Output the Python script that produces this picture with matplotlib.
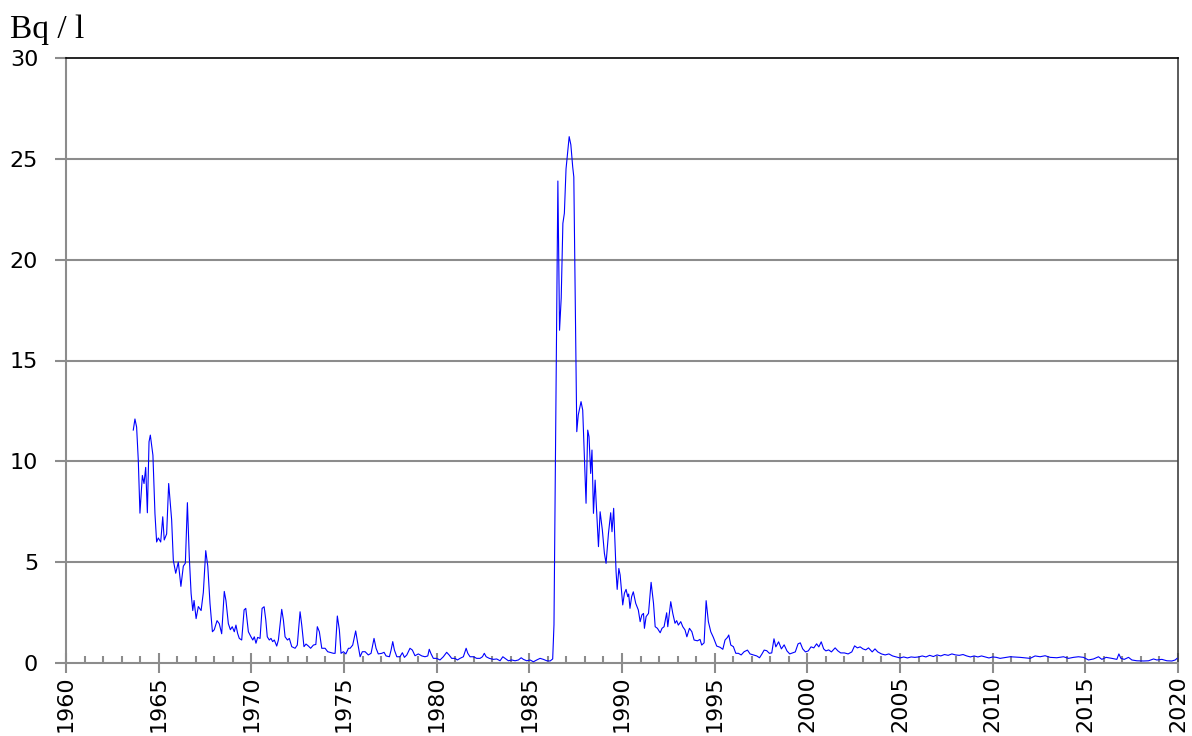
import matplotlib
matplotlib.use("Agg")
import matplotlib.pyplot as plt
from matplotlib.ticker import MultipleLocator

# ---- data (year, Bq/l) ----
years_early = [1963.63, 1963.72, 1963.81, 1963.90, 1963.99, 1964.12, 1964.21, 1964.30, 1964.39, 1964.48,
               1964.55, 1964.69, 1964.80, 1964.89, 1964.98, 1965.11, 1965.22, 1965.30, 1965.43, 1965.54,
               1965.70, 1965.79, 1965.92, 1966.06, 1966.20, 1966.33, 1966.44, 1966.55, 1966.65, 1966.75,
               1966.84, 1966.91, 1967.02, 1967.14, 1967.29, 1967.41, 1967.54, 1967.65, 1967.77, 1967.90,
               1968.00, 1968.15, 1968.27, 1968.40, 1968.54, 1968.63, 1968.76, 1968.87, 1968.97, 1969.08,
               1969.17, 1969.26, 1969.35, 1969.48, 1969.61, 1969.70, 1969.84, 1969.98, 1970.08, 1970.16,
               1970.25, 1970.34, 1970.47, 1970.58, 1970.69, 1970.78, 1970.86, 1970.97, 1971.06, 1971.15,
               1971.24, 1971.37, 1971.46, 1971.64, 1971.73, 1971.82, 1971.95, 1972.05, 1972.18, 1972.36,
               1972.48, 1972.63, 1972.72, 1972.84, 1972.95, 1973.08, 1973.20, 1973.35, 1973.48, 1973.56,
               1973.67, 1973.80, 1973.98, 1974.12, 1974.43, 1974.52, 1974.64, 1974.75, 1974.84, 1974.97,
               1975.10, 1975.24]
values_early = [11.55, 12.1, 11.7, 10.06, 7.43, 9.3, 8.9, 9.7, 7.45, 10.97,
                11.3, 10.3, 7.4, 6.0, 6.2, 6.0, 7.25, 6.1, 6.4, 8.9,
                7.1, 5.1, 4.45, 5.0, 3.8, 4.8, 4.95, 7.95, 5.3, 3.45,
                2.6, 3.1, 2.2, 2.8, 2.6, 3.5, 5.57, 4.8, 2.95, 1.55,
                1.65, 2.1, 1.95, 1.45, 3.55, 3.1, 1.95, 1.65, 1.8, 1.55,
                1.88, 1.47, 1.22, 1.14, 2.63, 2.71, 1.55, 1.3, 1.14, 1.3,
                0.98, 1.27, 1.22, 2.71, 2.79, 2.13, 1.3, 1.14, 1.22, 1.06,
                1.14, 0.84, 1.14, 2.66, 2.13, 1.3, 1.14, 1.22, 0.81, 0.73,
                0.89, 2.54, 1.88, 0.81, 0.94, 0.84, 0.73, 0.89, 0.92, 1.8,
                1.55, 0.73, 0.73, 0.56, 0.48, 0.48, 2.33, 1.64, 0.48, 0.56,
                0.45, 0.73]

years_mid = [1975.33, 1975.47, 1975.63, 1975.74, 1975.87, 1975.99, 1976.14, 1976.31, 1976.46, 1976.62,
             1976.73, 1976.85, 1977.04, 1977.16, 1977.27, 1977.45, 1977.54, 1977.63, 1977.72, 1977.85,
             1978.02, 1978.15, 1978.26, 1978.39, 1978.56, 1978.69, 1978.83, 1979.01, 1979.20, 1979.37,
             1979.52, 1979.60, 1979.70, 1979.82, 1980.00, 1980.18, 1980.36, 1980.54, 1980.67, 1980.81,
             1980.99, 1981.12, 1981.26, 1981.44, 1981.59, 1981.68, 1981.80, 1981.98, 1982.16, 1982.34,
             1982.47, 1982.57, 1982.67, 1982.84, 1983.06, 1983.24, 1983.42, 1983.57, 1983.69, 1983.87,
             1984.05, 1984.23, 1984.41, 1984.56, 1984.68, 1984.86, 1985.04, 1985.22, 1985.40, 1985.58,
             1985.76, 1985.94, 1986.12, 1986.26]
values_mid = [0.73, 0.89, 1.59, 0.98, 0.31, 0.56, 0.56, 0.40, 0.48, 1.22,
              0.73, 0.45, 0.48, 0.53, 0.35, 0.31, 0.64, 1.06, 0.64, 0.31,
              0.31, 0.51, 0.28, 0.40, 0.73, 0.64, 0.36, 0.45, 0.35, 0.31,
              0.35, 0.68, 0.45, 0.23, 0.23, 0.15, 0.31, 0.53, 0.40, 0.23,
              0.23, 0.15, 0.23, 0.31, 0.73, 0.48, 0.31, 0.31, 0.23, 0.23,
              0.31, 0.48, 0.31, 0.23, 0.18, 0.20, 0.11, 0.31, 0.23, 0.11,
              0.15, 0.11, 0.15, 0.26, 0.18, 0.11, 0.15, 0.06, 0.15, 0.23,
              0.18, 0.11, 0.10, 0.20]

years_chern = [1986.33, 1986.54, 1986.63, 1986.72, 1986.81, 1986.89, 1986.98, 1987.15, 1987.24, 1987.34,
               1987.40, 1987.56, 1987.64, 1987.79, 1987.88, 1987.97, 1988.06, 1988.15, 1988.22, 1988.31,
               1988.38, 1988.46, 1988.55, 1988.60, 1988.73, 1988.82, 1988.94, 1989.05, 1989.14, 1989.27,
               1989.39, 1989.46, 1989.55, 1989.68, 1989.74, 1989.83, 1989.90, 1989.97, 1990.04, 1990.13,
               1990.22, 1990.31, 1990.36, 1990.43, 1990.52, 1990.61, 1990.74, 1990.88]
values_chern = [1.9, 23.9, 16.5, 18.1, 21.8, 22.3, 24.5, 26.1, 25.7, 24.6,
                24.1, 11.47, 12.3, 12.96, 12.54, 10.23, 7.92, 11.55, 11.22, 9.4,
                10.56, 7.42, 9.07, 8.08, 5.77, 7.5, 6.59, 5.44, 4.94, 6.43,
                7.45, 6.51, 7.67, 4.53, 3.65, 4.69, 4.36, 3.62, 2.88, 3.46,
                3.65, 3.29, 3.42, 2.71, 3.29, 3.53, 2.96, 2.63]

years_late = [1990.98, 1991.07, 1991.16, 1991.21, 1991.30, 1991.43, 1991.57, 1991.70, 1991.79, 1991.91,
              1992.06, 1992.16, 1992.27, 1992.41, 1992.47, 1992.63, 1992.74, 1992.86, 1992.95, 1993.04,
              1993.17, 1993.28, 1993.40, 1993.50, 1993.64, 1993.77, 1993.89, 1994.07, 1994.21, 1994.30,
              1994.43, 1994.54, 1994.66, 1994.79, 1994.93, 1995.11, 1995.29, 1995.44, 1995.56, 1995.69,
              1995.76, 1995.87, 1996.01, 1996.14, 1996.28, 1996.43, 1996.59, 1996.77, 1996.91, 1997.09,
              1997.27, 1997.42, 1997.54, 1997.67, 1997.81, 1997.95]
values_late = [2.05, 2.38, 2.46, 1.72, 2.30, 2.46, 4.00, 2.96, 1.80, 1.72,
               1.50, 1.72, 1.80, 2.49, 1.80, 3.04, 2.46, 1.97, 2.10, 1.88,
               2.05, 1.80, 1.64, 1.30, 1.72, 1.55, 1.14, 1.10, 1.17, 0.89,
               1.00, 3.09, 2.05, 1.55, 1.27, 0.84, 0.78, 0.68, 1.14, 1.27,
               1.39, 0.89, 0.81, 0.48, 0.48, 0.40, 0.56, 0.64, 0.45, 0.40,
               0.35, 0.26, 0.43, 0.64, 0.61, 0.48]

years_recent = [1998.08, 1998.20, 1998.30, 1998.45, 1998.60, 1998.75, 1998.90, 1999.05, 1999.20, 1999.35,
                1999.50, 1999.62, 1999.75, 1999.90, 2000.05, 2000.20, 2000.35, 2000.50, 2000.62, 2000.75,
                2000.88, 2001.00, 2001.15, 2001.30, 2001.50, 2001.65, 2001.80, 2002.00, 2002.20, 2002.40,
                2002.55, 2002.70, 2002.85, 2003.00, 2003.15, 2003.30, 2003.50, 2003.65, 2003.80, 2004.00,
                2004.20, 2004.40, 2004.60, 2004.80, 2005.00, 2005.20, 2005.40, 2005.60, 2005.80, 2006.00,
                2006.20, 2006.40, 2006.60, 2006.80, 2007.00, 2007.20, 2007.40, 2007.60, 2007.80, 2008.00,
                2008.20, 2008.40, 2008.60, 2008.80, 2009.00, 2009.20, 2009.40, 2009.60, 2009.80, 2010.00,
                2010.20, 2010.40, 2010.94, 2011.48, 2012.02, 2012.29, 2012.56, 2012.83, 2013.10, 2013.46,
                2013.82, 2014.09, 2014.36, 2014.63, 2014.90, 2015.17, 2015.44, 2015.71, 2015.89, 2016.12,
                2016.43, 2016.70, 2016.81, 2016.92, 2017.10, 2017.33, 2017.51, 2017.78, 2018.14, 2018.41,
                2018.68, 2018.86, 2019.13, 2019.40, 2019.67, 2019.85, 2019.95]
values_recent = [0.50, 1.20, 0.80, 1.05, 0.70, 0.90, 0.60, 0.45, 0.50, 0.55,
                 0.95, 1.00, 0.70, 0.55, 0.60, 0.80, 0.75, 0.95, 0.80, 1.05,
                 0.70, 0.60, 0.65, 0.55, 0.75, 0.60, 0.50, 0.50, 0.45, 0.55,
                 0.85, 0.75, 0.80, 0.70, 0.65, 0.75, 0.55, 0.70, 0.55, 0.45,
                 0.40, 0.45, 0.35, 0.30, 0.25, 0.30, 0.25, 0.30, 0.28, 0.30,
                 0.35, 0.30, 0.38, 0.32, 0.40, 0.35, 0.42, 0.38, 0.45, 0.40,
                 0.38, 0.42, 0.35, 0.30, 0.35, 0.30, 0.35, 0.30, 0.25, 0.30,
                 0.28, 0.23, 0.31, 0.28, 0.23, 0.35, 0.31, 0.36, 0.28, 0.26,
                 0.31, 0.23, 0.28, 0.31, 0.28, 0.15, 0.20, 0.31, 0.18, 0.28,
                 0.23, 0.18, 0.45, 0.23, 0.18, 0.28, 0.15, 0.11, 0.10, 0.11,
                 0.20, 0.15, 0.18, 0.11, 0.10, 0.15, 0.23]

years = years_early + years_mid + years_chern + years_late + years_recent
values = values_early + values_mid + values_chern + values_late + values_recent

x_major = list(range(1960, 2021, 5))
y_major = [0, 5, 10, 15, 20, 25, 30]
unit_label = "Bq / l"

# ---- figure ----
fig = plt.figure(figsize=(11.92, 7.36), dpi=100)
ax = fig.add_axes([66/1192, 1 - 663/736, (1178-66)/1192, (663-58)/736])

grid_c = "#8c8c8c"
for yv in y_major[1:-1]:
    ax.axhline(yv, color=grid_c, lw=1.5, zorder=1)

ax.plot(years, values, color="#0000ff", lw=0.8, zorder=3)

ax.set_xlim(1960, 2020)
ax.set_ylim(0, 30)
ax.set_xticks(x_major)
ax.set_xticklabels([str(v) for v in x_major], rotation=90)
ax.xaxis.set_minor_locator(MultipleLocator(1))
ax.set_yticks(y_major)
ax.set_yticklabels([str(v) for v in y_major])

ax.tick_params(axis="x", which="major", direction="inout", length=14, width=1.5,
               color=grid_c, labelsize=16, pad=2)
ax.tick_params(axis="x", which="minor", direction="in", length=5, width=1.5, color=grid_c)
ax.tick_params(axis="y", which="major", direction="out", length=8, width=1.5,
               color=grid_c, labelsize=16, pad=12)

ax.spines["left"].set_color(grid_c)
ax.spines["bottom"].set_color(grid_c)
ax.spines["left"].set_linewidth(1.5)
ax.spines["bottom"].set_linewidth(1.5)
ax.spines["top"].set_color("#000000")
ax.spines["right"].set_color("#404040")
ax.spines["top"].set_linewidth(1.2)
ax.spines["right"].set_linewidth(1.2)

fig.text(10/1192, 1 - 38/736, unit_label, fontsize=24, family="Liberation Serif",
         ha="left", va="baseline")

fig.savefig("out.png", dpi=100)
